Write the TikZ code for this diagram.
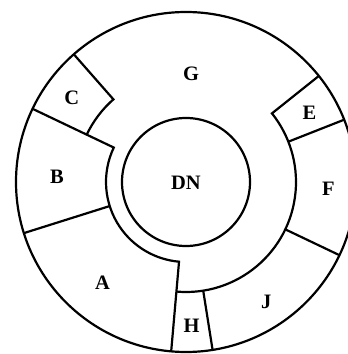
\documentclass[tikz,border=0pt]{standalone}
\usepackage{fontspec}
\setmainfont{Liberation Serif}
\begin{document}
\begin{tikzpicture}[x=1pt,y=1pt,
  ringline/.style={line width=2.2pt,line join=miter},
  lab/.style={font=\fontsize{20.5}{24}\selectfont\bfseries,inner sep=0pt,anchor=center}]
\clip (0,0) rectangle (348,354);
\fill[white] (0,0) rectangle (348,354);
\begin{scope}[shift={(186,172)}]
  % outer and inner circles
  \draw[ringline] (0,0) circle[radius=170];
  \draw[ringline] (0,0) circle[radius=64];
  % C region
  \draw[ringline] (131.3:170) -- (131.3:110) arc[start angle=131.3,end angle=154.5,radius=110];
  % B/C line, inner arc of A and B, A/H line
  \draw[ringline] (154.5:170) -- (154.5:80) arc[start angle=154.5,end angle=265,radius=80] -- (265:170);
  % inner boundary of H, J, F, E and the E/G line
  \draw[ringline] (265:110) arc[start angle=265,end angle=398.6,radius=110] -- (38.6:170);
  % spokes
  \draw[ringline] (197.5:80) -- (197.5:170);
  \draw[ringline] (279:110) -- (279:170);
  \draw[ringline] (334.5:110) -- (334.5:170);
  \draw[ringline] (21.5:110) -- (21.5:170);
\end{scope}
\node[lab] (G) at (191,280) {G};
\node[lab] (C) at (71.7,256.3) {C};
\node[lab] (E) at (309.5,241.5) {E};
\node[lab] (B) at (57,177.3) {B};
\node[lab] (DN) at (186,171.3) {DN};
\node[lab] (F) at (328.3,165.7) {F};
\node[lab] (A) at (102.5,71.2) {A};
\node[lab] (J) at (266.3,52.6) {J};
\node[lab] (H) at (191.7,28) {H};
\end{tikzpicture}
\end{document}
